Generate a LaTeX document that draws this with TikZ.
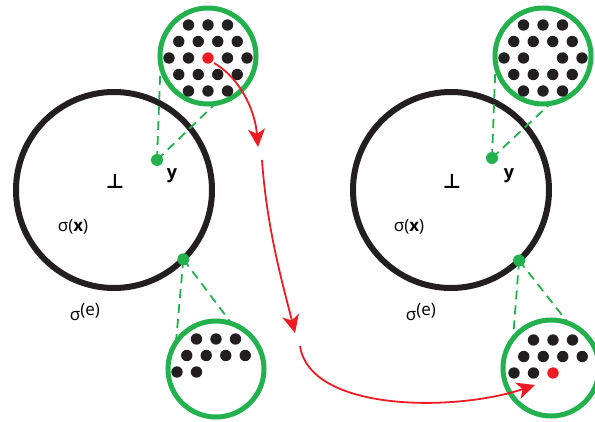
\documentclass[tikz,border=0pt]{standalone}
\usepackage{amsmath}
\usepackage{xcolor}
\usepackage{fontspec}
\setmainfont{Open Sans}
\newfontfamily\symfont{DejaVu Sans}
\usetikzlibrary{arrows.meta,calc}

\definecolor{grn}{RGB}{35,177,77}
\definecolor{rd}{RGB}{237,28,36}
\definecolor{blk}{RGB}{35,31,32}

% dots of a lens, given as half-column/row offsets
\newcommand{\lensdots}[2]{%
  \foreach \u/\v in {#2}
    \fill[blk] ($(#1)+({\u*9.75},{\v*16.5})$) circle (5.7);}

\begin{document}
\begin{tikzpicture}[x=1pt,y=-1pt,font=\fontsize{17}{19}\selectfont,
   ring/.style={circle,draw=blk,line width=6pt,minimum size=196pt,inner sep=0pt,outer sep=0pt},
   mag/.style={circle,draw=grn,line width=5pt,minimum size=96pt,inner sep=0pt,outer sep=0pt},
   zoomline/.style={grn,line width=1.8pt,dash pattern=on 9pt off 6pt},
   hop/.style={rd,line width=1.8pt,-{Stealth[length=18pt,width=17pt,inset=5pt]}}]
  \useasboundingbox (0,0) rectangle (595,422);

  % big balls
  \node[ring] (ringL) at (114,190) {};
  \node[ring] (ringR) at (451,190) {};

  % lenses (placed first, drawn after the zoom lines)
  \coordinate (lTL) at (208,56);
  \coordinate (lTR) at (543,56);
  \coordinate (lBL) at (216,369);
  \coordinate (lBR) at (551,368);
  \coordinate (cTL) at (208,58);
  \coordinate (cTR) at (543,58);
  \coordinate (cBL) at (216,372);
  \coordinate (cBR) at (553,373);

  % points that are zoomed
  \coordinate (pinL)  at (157,160);
  \coordinate (pinR)  at (492,158);
  \coordinate (spotL) at (ringL.-45.4);
  \coordinate (spotR) at (ringR.-46);

  \draw[zoomline] (pinL) -- ($(lTL)+(-47.5,9)$);
  \draw[zoomline] (pinL) -- ($(lTL)+(8,47)$);
  \draw[zoomline] (spotL) -- ($(lBL)+(-40,-27)$);
  \draw[zoomline] (spotL) -- ($(lBL)+(16,-45)$);
  \draw[zoomline] (pinR) -- ($(lTR)+(-47.5,9)$);
  \draw[zoomline] (pinR) -- ($(lTR)+(8,47)$);
  \draw[zoomline] (spotR) -- ($(lBR)+(-38,-29)$);
  \draw[zoomline] (spotR) -- ($(lBR)+(18,-44)$);
  \foreach \p in {pinL,pinR,spotL,spotR}
    \fill[grn] (\p) circle (6);

  \node[mag] (magTL) at (lTL) {};
  \node[mag] (magTR) at (lTR) {};
  \node[mag] (magBL) at (lBL) {};
  \node[mag] (magBR) at (lBR) {};

  % dots inside the lenses
  \lensdots{cTL}{-2/-2,0/-2,2/-2,-3/-1,-1/-1,1/-1,3/-1,-4/0,-2/0,2/0,4/0,-3/1,-1/1,1/1,3/1,-2/2,0/2,2/2}
  \lensdots{cTR}{-2/-2,0/-2,2/-2,-3/-1,-1/-1,1/-1,3/-1,-4/0,-2/0,2/0,4/0,-3/1,-1/1,1/1,3/1,-2/2,0/2,2/2}
  \lensdots{cBL}{-2/-2,0/-2,2/-2,-3/-1,-1/-1,1/-1,3/-1,-4/0,-2/0}
  \lensdots{cBR}{-2/-2,0/-2,2/-2,-3/-1,-1/-1,1/-1,3/-1,-4/0,-2/0}
  \fill[rd] (cTL) circle (5.7);
  \fill[rd] (cBR) circle (5.7);

  % labels
  \node[font=\symfont\bfseries\fontsize{20}{20}\selectfont] (botL) at (115,181) {⊥};
  \node[font=\symfont\bfseries\fontsize{20}{20}\selectfont] (botR) at (452,181) {⊥};
  \node[font=\bfseries\fontsize{18}{19}\selectfont] (yL) at (172,176) {y};
  \node[font=\bfseries\fontsize{18}{19}\selectfont] (yR) at (509,176) {y};
  \node (sxL) at (73,227)  {σ(\textbf{x})};
  \node (sxR) at (409,227) {σ(\textbf{x})};
  \node (seL) at (85,312)  {σ\raisebox{5pt}{(e)}};
  \node (seR) at (421,312) {σ\raisebox{5pt}{(e)}};

  % the red hops
  \coordinate (h1) at (214,63);
  \coordinate (t1) at (258,147);
  \coordinate (h2) at (262,160);
  \coordinate (t2) at (295,333);
  \coordinate (h3) at (300,346);
  \coordinate (t3) at (535,385);
  \draw[hop] (h1) .. controls (240,78) and (255,110) .. (t1);
  \draw[hop] (h2) .. controls (267,230) and (283,285) .. (t2);
  \draw[hop] (h3) .. controls (310,412) and (455,412) .. (t3);
\end{tikzpicture}
\end{document}
